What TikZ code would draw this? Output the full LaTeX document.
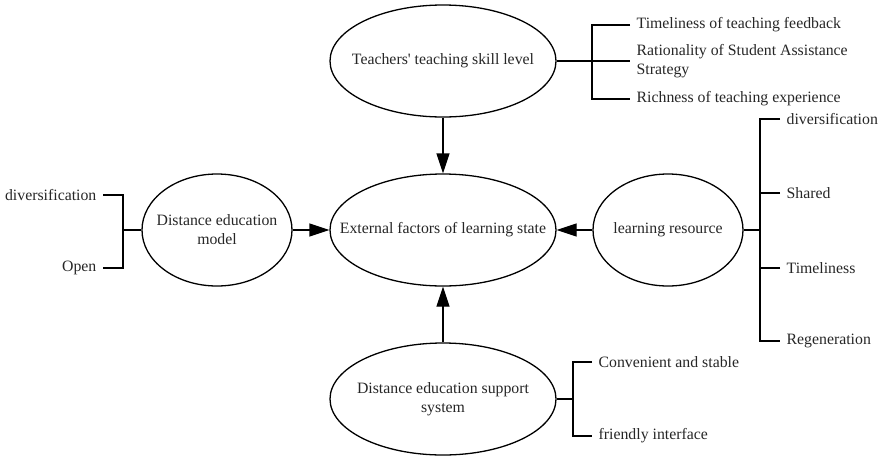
\documentclass[tikz,border=0pt]{standalone}
\usepackage{fontspec}
\setmainfont{Liberation Serif}[Ligatures=TeXOff]
\usepackage{tikz}
\usetikzlibrary{arrows.meta}
\usetikzlibrary{shapes.geometric}

\begin{document}
\begin{tikzpicture}[x=1pt,y=-1pt,
  line width=1.3pt,>={Triangle[length=20pt,width=13pt]},
  factor/.style={draw,ellipse,inner sep=0pt,minimum height=112pt},
  big/.style={factor,minimum width=226pt},
  small/.style={factor,minimum width=150pt},
  item/.style={anchor=west,inner xsep=6pt,inner ysep=0pt,align=left},
  litem/.style={item,anchor=east}]
  \tikzstyle{every node}=[font=\fontsize{15.8}{19}\selectfont,text=black!85]

  \useasboundingbox (0,0) rectangle (881,456);

  \node [big,label=center:External factors of learning state] (ext) at (443,230) {};
  \node [big,label=center:Teachers' teaching skill level] (teach) at (443,61) {};
  \node [small,label={[align=center]center:Distance education\\model}] (model) at (217,230) {};
  \node [small,label=center:learning resource] (res) at (668,230) {};
  \node [big,label={[align=center]center:Distance education support\\system}] (sup) at (443,399) {};

  \draw [->] (teach) -- (ext);
  \draw [->] (model) -- (ext);
  \draw [->] (res) -- (ext);
  \draw [->] (sup) -- (ext);

  % teaching skill
  \node [item] (t1) at (630,25) {Timeliness of teaching feedback};
  \node [item] (t2) at (630,61) {Rationality of Student Assistance\\Strategy};
  \node [item] (t3) at (630,99) {Richness of teaching experience};
  \coordinate (tb) at (592,61);
  \draw (teach.east) -- (t2.west);
  \draw (t1.west) -| (tb) |- (t3.west);

  % education model
  \node [litem] (m1) at (103,195) {diversification};
  \node [litem] (m2) at (103,268) {Open};
  \coordinate (mb) at (123,230);
  \draw (model) -- (mb);
  \draw (m1.east) -| (mb) |- (m2.east);

  % learning resource
  \node [item] (r1) at (780,119) {diversification};
  \node [item] (r2) at (780,193) {Shared};
  \node [item] (r3) at (780,268) {Timeliness};
  \node [item] (r4) at (780,341) {Regeneration};
  \coordinate (rb) at (760,230);
  \draw (res) -- (rb);
  \draw (r1.west) -| (rb) |- (r4.west);
  \draw (r2.west) -- (r2.west -| rb);
  \draw (r3.west) -- (r3.west -| rb);

  % support system
  \node [item] (s1) at (592,362) {Convenient and stable};
  \node [item] (s2) at (592,436) {friendly interface};
  \coordinate (sb) at (573,399);
  \draw (sup) -- (sb);
  \draw (s1.west) -| (sb) |- (s2.west);

\end{tikzpicture}
\end{document}
